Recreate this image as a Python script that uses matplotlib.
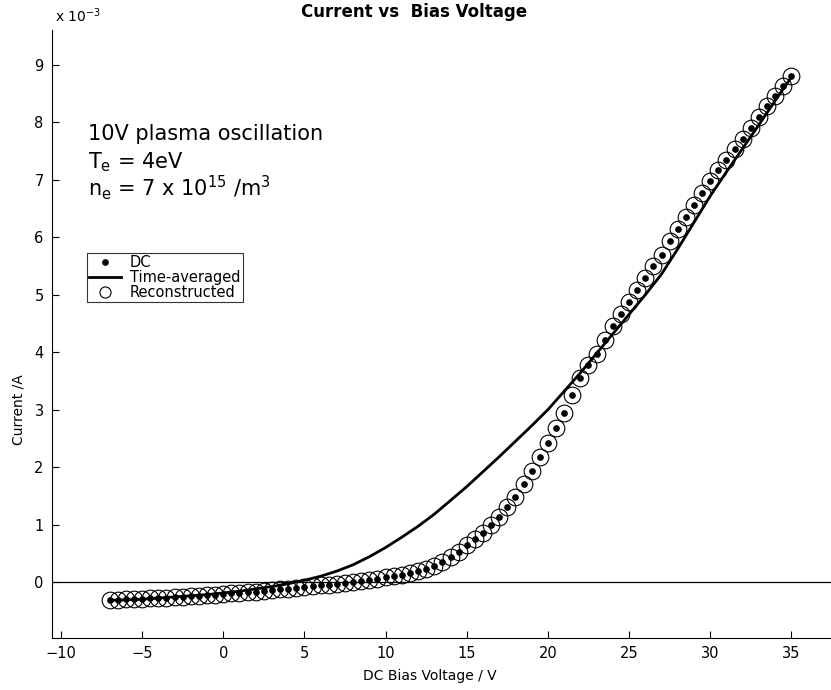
import numpy as np
import matplotlib
matplotlib.use("Agg")
import matplotlib.pyplot as plt
from matplotlib.lines import Line2D

plt.rcParams['font.family'] = ['DejaVu Sans']
plt.rcParams['mathtext.default'] = 'regular'

# bias voltage samples (V), 0.5 V steps
bias = np.arange(-7, 35.5, 0.5)

# DC probe current (x 1e-3 A)
dc_current = [
    -0.31, -0.305, -0.30, -0.295, -0.29, -0.285, -0.28, -0.27, -0.26, -0.255,
    -0.25, -0.24, -0.23, -0.22, -0.21, -0.20, -0.19, -0.18, -0.17, -0.155,
    -0.14, -0.13, -0.12, -0.105, -0.09, -0.075, -0.06, -0.045, -0.03, -0.015,
    0.0, 0.02, 0.04, 0.06, 0.08, 0.105, 0.13, 0.16, 0.19, 0.23,
    0.28, 0.35, 0.43, 0.53, 0.64, 0.75, 0.86, 0.99, 1.13, 1.30,
    1.48, 1.70, 1.93, 2.17, 2.42, 2.68, 2.95, 3.25, 3.56, 3.78,
    3.97, 4.21, 4.45, 4.67, 4.88, 5.09, 5.30, 5.50, 5.70, 5.93,
    6.15, 6.36, 6.57, 6.78, 6.98, 7.17, 7.35, 7.53, 7.72, 7.91,
    8.10, 8.28, 8.46, 8.63, 8.81,
]

# reconstructed current, sits on top of the DC points
recon_current = list(dc_current)

# time-averaged curve, 1 V steps
avg_bias = np.arange(-7, 36, 1)
avg_current = [
    -0.32, -0.31, -0.30, -0.28, -0.26, -0.24, -0.22, -0.19, -0.16, -0.12,
    -0.08, -0.03, 0.03, 0.10, 0.19, 0.30, 0.44, 0.60, 0.78, 0.97,
    1.18, 1.42, 1.66, 1.92, 2.18, 2.45, 2.72, 3.00, 3.32, 3.64,
    3.98, 4.32, 4.66, 5.00, 5.36, 5.80, 6.26, 6.72, 7.14, 7.55,
    7.96, 8.38, 8.79,
]

xticks = [-10, -5, 0, 5, 10, 15, 20, 25, 30, 35]
yticks = list(range(0, 10))

W, H = 831, 690
fig = plt.figure(figsize=(W / 100, H / 100), dpi=100)
ax = fig.add_axes([52 / W, 52 / H, (W - 52) / W, (638 - 30) / H])

ax.axhline(0, color='black', lw=0.9, zorder=1)
ax.plot(avg_bias, avg_current, '-', color='black', lw=2.0, zorder=2)
ax.plot(bias, dc_current, 'o', color='black', ms=3.8, zorder=3)
ax.plot(bias, recon_current, 'o', mfc='none', mec='black', mew=0.8, ms=12, zorder=4)

ax.set_xlim(-10.55, 37.44)
ax.set_ylim(-0.975, 9.61)
ax.set_xticks(xticks)
ax.set_yticks(yticks)
ax.tick_params(direction='in', length=5, width=0.8, labelsize=10.5, pad=6)
ax.spines['top'].set_visible(False)
ax.spines['right'].set_visible(False)

# legend
handles = [
    Line2D([], [], ls='none', marker='o', color='black', ms=3.8),
    Line2D([], [], color='black', lw=2.0),
    Line2D([], [], ls='none', marker='o', mfc='none', mec='black', mew=0.8, ms=8),
]
leg = ax.legend(handles, ['DC', 'Time-averaged', 'Reconstructed'],
                loc='upper left', bbox_to_anchor=((87 - 52) / (W - 52), (638 - 253) / 608),
                fontsize=10.5, frameon=True, fancybox=False, borderpad=0.15,
                labelspacing=0.0, handlelength=2.2, handletextpad=0.6,
                borderaxespad=0)
leg.get_frame().set_edgecolor('black')
leg.get_frame().set_linewidth(0.8)

# annotation
fig.text(88 / W, 1 - 140 / H, '10V plasma oscillation', fontsize=15, va='baseline')
fig.text(88 / W, 1 - 168 / H, r'T$_e$ = 4eV', fontsize=15, va='baseline')
fig.text(88 / W, 1 - 196 / H, r'n$_e$ = 7 x 10$^{15}$ /m$^3$', fontsize=15, va='baseline')

fig.text(414 / W, 1 - 12 / H, 'Current vs  Bias Voltage', fontsize=12,
         fontweight='bold', ha='center', va='center')
fig.text(430 / W, 1 - 676 / H, 'DC Bias Voltage / V', fontsize=10,
         ha='center', va='center')
fig.text(18 / W, 1 - 410 / H, 'Current /A', fontsize=10, rotation=90,
         ha='center', va='center')
fig.text(55 / W, 1 - 16 / H, r'x 10$^{-3}$', fontsize=10, va='center')

fig.savefig('out.png', dpi=100)
